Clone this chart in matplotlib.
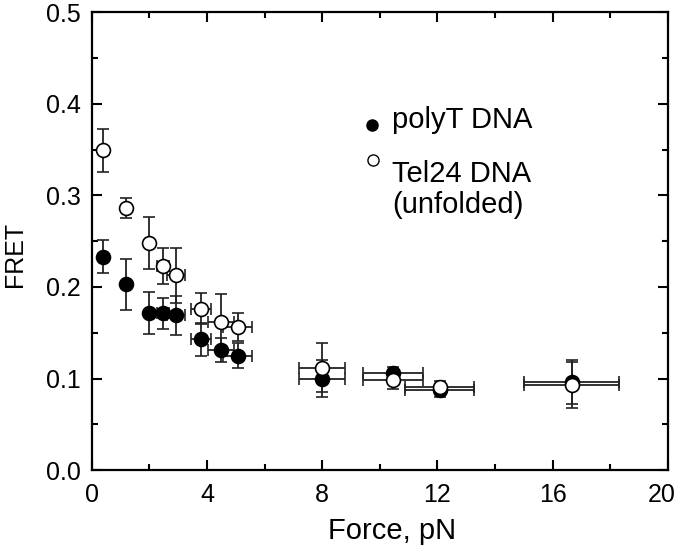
import matplotlib.pyplot as plt
import matplotlib.transforms as mtransforms

plt.rcParams['font.family'] = ['Liberation Sans', 'DejaVu Sans']

# force (pN) and x error
force = [0.38, 1.18, 1.98, 2.47, 2.92, 3.78, 4.48, 5.07, 7.99, 10.45, 12.08, 16.67]
force_err = [0.0, 0.0, 0.0, 0.2, 0.3, 0.35, 0.45, 0.5, 0.8, 1.05, 1.2, 1.65]

# polyT DNA
polyT = [0.233, 0.203, 0.172, 0.171, 0.169, 0.143, 0.131, 0.125, 0.100, 0.106, 0.087, 0.096]
polyT_err = [0.018, 0.028, 0.023, 0.017, 0.021, 0.018, 0.013, 0.014, 0.020, 0.007, 0.007, 0.024]

# Tel24 DNA (unfolded)
tel24 = [0.349, 0.286, 0.248, 0.223, 0.213, 0.176, 0.162, 0.156, 0.112, 0.098, 0.091, 0.093]
tel24_err = [0.023, 0.011, 0.028, 0.020, 0.030, 0.017, 0.030, 0.015, 0.027, 0.009, 0.006, 0.025]

fig = plt.figure(figsize=(6.8, 5.55), dpi=100)
ax = fig.add_axes([0.135, 0.153, 0.847, 0.825])

ebkw = dict(ls='none', marker='o', ms=10, ecolor='#222222', elinewidth=1.3,
            capsize=4, capthick=1.3, mec='black', mew=1.2)
ax.errorbar(force, polyT, yerr=polyT_err, xerr=force_err, mfc='black', **ebkw)
ax.errorbar(force, tel24, yerr=tel24_err, xerr=force_err, mfc='white', **ebkw)

ax.set_xlim(0, 20)
ax.set_ylim(0, 0.5)
ax.set_xticks([0, 4, 8, 12, 16, 20])
ax.set_xticks([2, 6, 10, 14, 18], minor=True)
ax.set_yticks([0.0, 0.1, 0.2, 0.3, 0.4, 0.5])
ax.set_yticks([0.05, 0.15, 0.25, 0.35, 0.45], minor=True)
ax.set_yticklabels(['0.0', '0.1', '0.2', '0.3', '0.4', '0.5'])
ax.tick_params(which='both', direction='in', top=True, right=True,
               labelsize=18, width=1.5)
ax.tick_params(axis='x', pad=9)
ax.tick_params(axis='y', pad=8)
ax.tick_params(which='major', length=7)
ax.tick_params(which='minor', length=4)
for s in ax.spines.values():
    s.set_linewidth(1.6)

# last x label sits a bit inside the figure edge
lab20 = ax.get_xticklabels()[-1]
lab20.set_transform(lab20.get_transform() +
                    mtransforms.ScaledTranslation(-6 / 100, 0, fig.dpi_scale_trans))

ax.set_xlabel('Force, pN', fontsize=21)
ax.xaxis.set_label_coords(0.521, -0.102)
ax.set_ylabel('FRET', fontsize=18)
ax.yaxis.set_label_coords(-0.112, 0.472)

# legend drawn by hand
ax.plot([0.486], [0.754], 'o', ms=8, mfc='black', mec='black',
        transform=ax.transAxes, clip_on=False)
ax.plot([0.488], [0.677], 'o', ms=8, mfc='white', mec='black',
        transform=ax.transAxes, clip_on=False)
ax.text(0.521, 0.747, 'polyT DNA', fontsize=21, va='baseline', transform=ax.transAxes)
ax.text(0.521, 0.629, 'Tel24 DNA', fontsize=21, va='baseline', transform=ax.transAxes)
ax.text(0.521, 0.561, '(unfolded)', fontsize=21, va='baseline', transform=ax.transAxes)

fig.savefig('out.png', dpi=100)
